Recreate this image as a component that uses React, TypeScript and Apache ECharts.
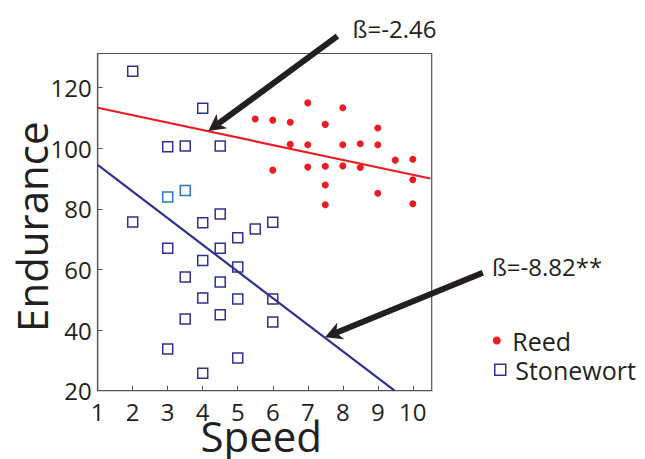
import React, { useEffect, useRef } from "react";
import * as echarts from "echarts";

// ---- data ----
const xTicks = [1, 2, 3, 4, 5, 6, 7, 8, 9, 10];
const yTicks = [20, 40, 60, 80, 100, 120];

const reed: [number, number][] = [
  [5.5, 109.7], [6, 109.3], [6.5, 108.6], [7, 115], [7.5, 107.9], [8, 113.4], [9, 106.7],
  [6.5, 101.3], [7, 101.2], [8, 101.2], [8.5, 101.5], [9, 101.2],
  [9.5, 96.1], [10, 96.4],
  [6, 92.8], [7, 93.8], [7.5, 94.1], [8, 94.2], [8.5, 93.7],
  [10, 89.6], [7.5, 87.9], [9, 85.2], [7.5, 81.4], [10, 81.7],
];

const stonewort: [number, number][] = [
  [2, 125.4], [4, 113.2], [3, 100.5], [3.5, 100.8], [4.5, 100.8], [4.5, 78.3],
  [2, 75.7], [4, 75.4], [5.5, 73.4], [6, 75.6], [5, 70.5], [3, 67], [4.5, 67],
  [4, 63], [5, 60.8], [3.5, 57.5], [4.5, 55.9], [4, 50.6], [5, 50.3], [6, 50.3],
  [3.5, 43.7], [4.5, 45.1], [6, 42.7], [3, 33.8], [5, 30.8], [4, 25.8],
];
const stonewortLight: [number, number][] = [[3, 83.9], [3.5, 86.1]];

const reedFit: [number, number][] = [[1, 113.4], [10.5, 90.03]];
const stonewortFit: [number, number][] = [[1, 94.5], [9.48, 20]];

// annotations: [start, tip] in data coordinates, label anchor (left, middle)
const arrows = [
  { from: [7.846, 137.06], to: [4.16, 105.7], label: "ß=-2.46", at: [8.28, 139.5] },
  { from: [12.0, 58.94], to: [7.494, 37.62], label: "ß=-8.82**", at: [12.26, 60.9] },
];

const FONT = "'Open Sans', 'Noto Sans', sans-serif";
const TEXT = "#231f20";
const RED = "#ec1c24";
const NAVY = "#2e3192";
const LIGHT = "#2a78bd";
const AXIS = "#555555";

export default function App() {
  const ref = useRef<HTMLDivElement>(null);

  useEffect(() => {
    const chart = echarts.init(ref.current!, null, { renderer: "svg" });
    const option: any = {
      animation: false,
      backgroundColor: "#ffffff",
      grid: {
        left: 97.7,
        right: 213.3,
        top: 53.5,
        bottom: 68.3,
        show: true,
        borderColor: AXIS,
        borderWidth: 1.2,
        backgroundColor: "transparent",
      },
      xAxis: {
        type: "value",
        min: 1,
        max: 10.54,
        interval: 1,
        axisLine: { show: true, lineStyle: { color: AXIS, width: 1.2 } },
        axisTick: { show: true, inside: true, length: 5, customValues: xTicks, lineStyle: { color: AXIS } },
        axisLabel: { customValues: xTicks, fontSize: 24, fontFamily: FONT, color: TEXT, margin: 9 },
        splitLine: { show: false },
      },
      yAxis: {
        type: "value",
        min: 20,
        max: 131.3,
        interval: 20,
        axisLine: { show: true, lineStyle: { color: AXIS, width: 1.2 } },
        axisTick: { show: true, inside: true, length: 5, customValues: yTicks, lineStyle: { color: AXIS } },
        axisLabel: { customValues: yTicks, fontSize: 24, fontFamily: FONT, color: TEXT, margin: 6 },
        splitLine: { show: false },
      },
      legend: [
        {
          data: [{ name: "Reed", icon: "circle" }],
          orient: "vertical",
          left: 492.8,
          top: 328,
          padding: 0,
          itemWidth: 21,
          itemHeight: 8,
          textStyle: { fontSize: 25, fontFamily: FONT, color: TEXT, lineHeight: 25 },
        },
        {
          data: [{ name: "Stonewort", icon: "path://M0,0L10,0L10,10L0,10Z" }],
          orient: "vertical",
          left: 494,
          top: 357.3,
          padding: 0,
          itemWidth: 20,
          itemHeight: 11,
          itemStyle: { color: "rgba(255,255,255,0)", borderColor: NAVY, borderWidth: 1.5 },
          textStyle: { fontSize: 25, fontFamily: FONT, color: TEXT, lineHeight: 25 },
        },
      ],
      series: [
        {
          name: "Reed",
          type: "scatter",
          symbol: "circle",
          symbolSize: 7,
          itemStyle: { color: RED, opacity: 1 },
          data: reed,
        },
        {
          name: "Stonewort",
          type: "scatter",
          symbol: "rect",
          symbolSize: 10,
          itemStyle: { color: "rgba(255,255,255,0)", borderColor: NAVY, borderWidth: 1.5, opacity: 1 },
          data: [
            ...stonewort.map((d) => ({ value: d })),
            ...stonewortLight.map((d) => ({ value: d, itemStyle: { borderColor: LIGHT } })),
          ],
        },
        {
          name: "Reed fit",
          type: "line",
          data: reedFit,
          showSymbol: false,
          symbol: "none",
          silent: true,
          lineStyle: { color: RED, width: 2.2 },
        },
        {
          name: "Stonewort fit",
          type: "line",
          data: stonewortFit,
          showSymbol: false,
          symbol: "none",
          silent: true,
          lineStyle: { color: NAVY, width: 2.2 },
        },
      ],
    };
    chart.setOption(option);

    const px = (v: number[]) => chart.convertToPixel({ gridIndex: 0 }, v) as number[];
    const graphics: any[] = [];
    arrows.forEach((a) => {
      const s = px(a.from);
      const t = px(a.to);
      const dx = s[0] - t[0];
      const dy = s[1] - t[1];
      const len = Math.hypot(dx, dy);
      const ux = dx / len;
      const uy = dy / len;
      const nx = -uy;
      const ny = ux;
      const L = 17, W = 9, N = 12;
      graphics.push({
        type: "line",
        z: 100,
        shape: { x1: s[0], y1: s[1], x2: t[0] + ux * N, y2: t[1] + uy * N },
        style: { stroke: TEXT, lineWidth: 6 },
      });
      graphics.push({
        type: "polygon",
        z: 100,
        shape: {
          points: [
            [t[0], t[1]],
            [t[0] + ux * L + nx * W, t[1] + uy * L + ny * W],
            [t[0] + ux * N, t[1] + uy * N],
            [t[0] + ux * L - nx * W, t[1] + uy * L - ny * W],
          ],
        },
        style: { fill: TEXT },
      });
      const p = px(a.at);
      graphics.push({
        type: "text",
        z: 100,
        x: p[0],
        y: p[1],
        style: {
          text: a.label,
          fontSize: 24,
          fontFamily: FONT,
          fill: TEXT,
          align: "left",
          verticalAlign: "middle",
        },
      });
    });
    graphics.push({
      type: "text",
      z: 100,
      x: 261.2,
      y: 435.9,
      style: { text: "Speed", fontSize: 42, fontFamily: FONT, fill: TEXT, align: "center", verticalAlign: "middle" },
    });
    graphics.push({
      type: "text",
      z: 100,
      x: 31.5,
      y: 226.7,
      rotation: Math.PI / 2,
      style: { text: "Endurance", fontSize: 42, fontFamily: FONT, fill: TEXT, align: "center", verticalAlign: "middle" },
    });
    chart.setOption({ graphic: graphics });

    return () => chart.dispose();
  }, []);

  return (
    <div
      ref={ref}
      style={{ position: "absolute", left: 0, top: 0, width: 645, height: 459 }}
    />
  );
}
